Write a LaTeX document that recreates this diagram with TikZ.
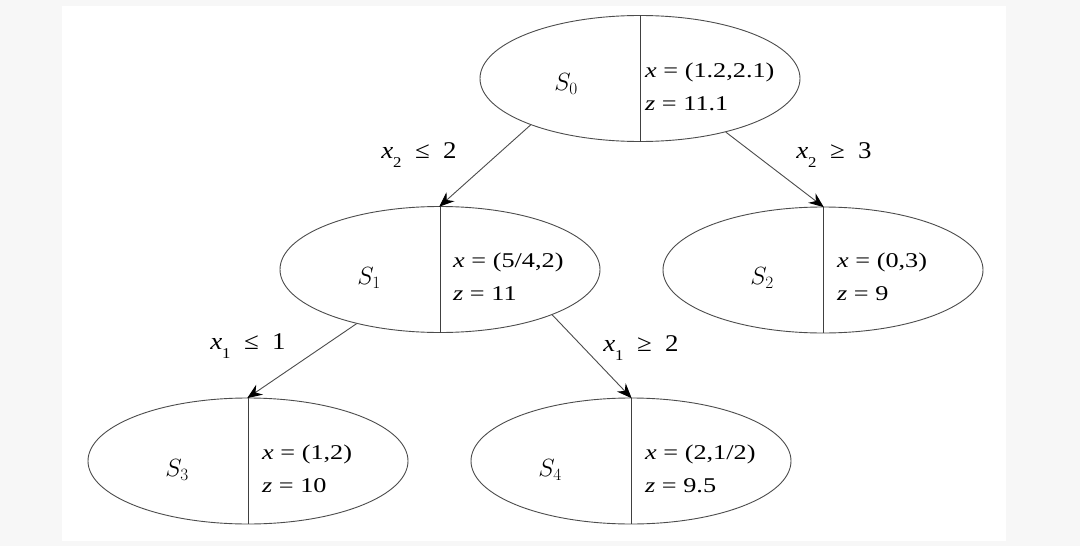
\documentclass[tikz,border=0pt]{standalone}
\usepackage{graphicx}
\usepackage{fontspec}
\setmainfont{Liberation Serif}
\usetikzlibrary{shapes.geometric,arrows.meta}
\newcommand\wideline[1]{\scalebox{1.25}[1]{#1}}
\newcommand\widelab[1]{\scalebox{1.12}[1]{#1}}
\begin{document}
\begin{tikzpicture}[x=1pt,y=-1pt,
  state/.style={ellipse,draw=black!70,line width=0.9pt,minimum width=320pt,minimum height=126pt,inner sep=0pt},
  divider/.style={draw=black!75,line width=0.9pt},
  info/.style={anchor=west,align=left,inner sep=0pt,font=\fontsize{21}{33}\selectfont},
  sname/.style={inner sep=0pt,font=\fontsize{25}{28}\selectfont},
  elabel/.style={inner sep=0pt,font=\fontsize{24}{26}\selectfont},
  branch/.style={draw=black!70,line width=0.9pt,-{Stealth[length=15pt,width=12pt,inset=5pt,black]},shorten >=-1pt}]
\useasboundingbox (0,0) rectangle (1080,546);
\fill[black!3] (0,0) rectangle (1080,546);
\fill[white] (62,6) rectangle (1006,541);

\node[state] (S0) at (640,78.5) {};
\node[state] (S1) at (440,269.5) {};
\node[state] (S2) at (823,270) {};
\node[state] (S3) at (248,461) {};
\node[state] (S4) at (631,461) {};

\foreach \n in {S0,S1,S2,S3,S4}{\draw[divider] (\n.north) -- (\n.south);}

\node[sname] (n0) at (566,84) {$S_0$};
\node[sname] (n1) at (369,278) {$S_1$};
\node[sname] (n2) at (762,278) {$S_2$};
\node[sname] (n3) at (177,470) {$S_3$};
\node[sname] (n4) at (550,470) {$S_4$};

\node[info] (t0) at (645,87) {\wideline{\textit{x} = (1.2,2.1)}\\\wideline{\textit{z} = 11.1}};
\node[info] (t1) at (453,277) {\wideline{\textit{x} = (5/4,2)}\\\wideline{\textit{z} = 11}};
\node[info] (t2) at (837,277) {\wideline{\textit{x} = (0,3)}\\\wideline{\textit{z} = 9}};
\node[info] (t3) at (262,469) {\wideline{\textit{x} = (1,2)}\\\wideline{\textit{z} = 10}};
\node[info] (t4) at (645,469) {\wideline{\textit{x} = (2,1/2)}\\\wideline{\textit{z} = 9.5}};

\draw[branch] (S0.203) -- (S1.north);
\draw[branch] (S0.328) -- (S2.north);
\draw[branch] (S1.213) -- (S3.north);
\draw[branch] (S1.338) -- (S4.north);

\node[elabel] (l1) at (419,155) {\widelab{\textit{x}\raisebox{-0.35em}{\fontsize{15}{15}\selectfont 2}\ \ ≤\ \ 2}};
\node[elabel] (l2) at (834,155) {\widelab{\textit{x}\raisebox{-0.35em}{\fontsize{15}{15}\selectfont 2}\ \ ≥\ \ 3}};
\node[elabel] (l3) at (248,346) {\widelab{\textit{x}\raisebox{-0.35em}{\fontsize{15}{15}\selectfont 1}\ \ ≤\ \ 1}};
\node[elabel] (l4) at (641,348) {\widelab{\textit{x}\raisebox{-0.35em}{\fontsize{15}{15}\selectfont 1}\ \ ≥\ \ 2}};
\end{tikzpicture}
\end{document}
